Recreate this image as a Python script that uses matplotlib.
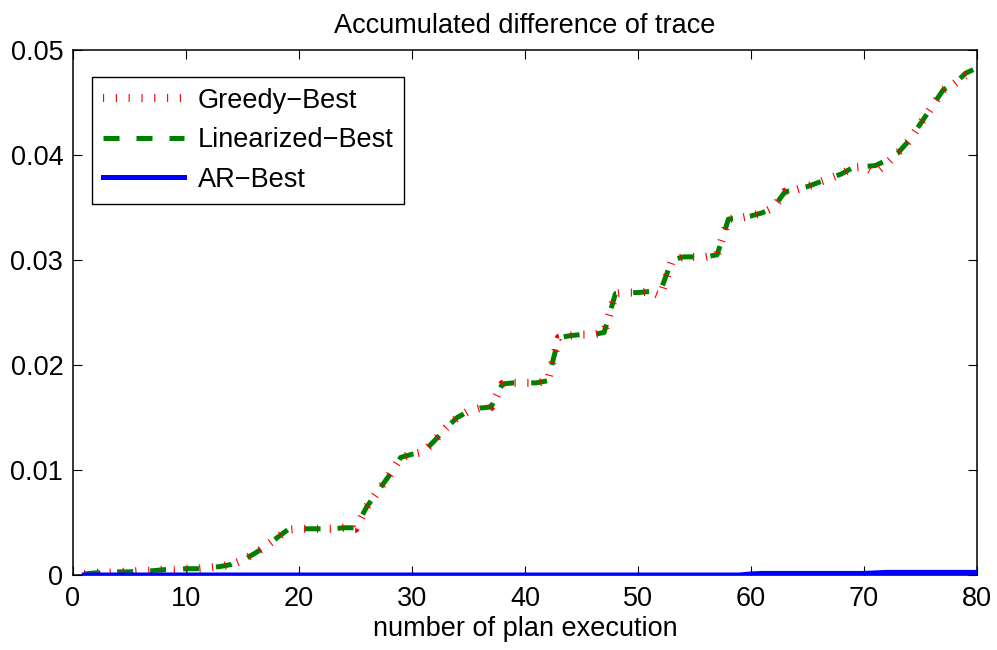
import numpy as np
import matplotlib
matplotlib.use('Agg')
import matplotlib.pyplot as plt
from matplotlib.ticker import FormatStrFormatter

plt.rcParams['font.family'] = ['Liberation Sans', 'DejaVu Sans']

# số lần thực thi kế hoạch
runs = list(range(1, 81))

# Linearized-Best
linearized = [0.0001, 0.0002, 0.0002, 0.0003, 0.0003, 0.0004, 0.0004, 0.0005, 0.0005, 0.0006,
              0.0006, 0.0007, 0.0008, 0.0010, 0.0014, 0.0020, 0.0027, 0.0035, 0.0043, 0.0044,
              0.0044, 0.0044, 0.0044, 0.0045, 0.0045, 0.0065, 0.0080, 0.0095, 0.0112, 0.0115,
              0.0117, 0.0128, 0.0140, 0.0150, 0.0156, 0.0159, 0.0160, 0.0182, 0.0183, 0.0183,
              0.0183, 0.0185, 0.0226, 0.0228, 0.0229, 0.0229, 0.0231, 0.0268, 0.0269, 0.0269,
              0.0270, 0.0271, 0.0300, 0.0303, 0.0303, 0.0303, 0.0305, 0.0339, 0.0340, 0.0342,
              0.0345, 0.0350, 0.0365, 0.0367, 0.0370, 0.0374, 0.0378, 0.0382, 0.0388, 0.0389,
              0.0390, 0.0395, 0.0402, 0.0414, 0.0430, 0.0446, 0.0462, 0.0468, 0.0478, 0.0483]

# Greedy-Best: gần như trùng, chỉ lệch ở vài điểm
greedy = [0.0001, 0.0002, 0.0002, 0.0003, 0.0003, 0.0004, 0.0004, 0.0005, 0.0005, 0.0006,
          0.0006, 0.0007, 0.0008, 0.0010, 0.0014, 0.0020, 0.0027, 0.0035, 0.0043, 0.0044,
          0.0044, 0.0044, 0.0044, 0.0045, 0.0044, 0.0065, 0.0080, 0.0095, 0.0112, 0.0115,
          0.0117, 0.0128, 0.0140, 0.0150, 0.0156, 0.0159, 0.0160, 0.0182, 0.0183, 0.0183,
          0.0183, 0.0185, 0.0226, 0.0228, 0.0229, 0.0229, 0.0231, 0.0268, 0.0269, 0.0269,
          0.0270, 0.0266, 0.0300, 0.0303, 0.0303, 0.0303, 0.0305, 0.0339, 0.0340, 0.0342,
          0.0345, 0.0350, 0.0365, 0.0367, 0.0370, 0.0374, 0.0378, 0.0382, 0.0388, 0.0389,
          0.0383, 0.0392, 0.0402, 0.0414, 0.0430, 0.0446, 0.0462, 0.0468, 0.0476, 0.0475]

# AR-Best: gần bằng 0
ar = [0.0] * 59 + [0.0001] + [0.00015] * 10 + [0.0002] + [0.00025] * 9

fig = plt.figure(figsize=(9.97, 6.5), dpi=100)
ax = fig.add_axes([0.0732, 0.1154, 0.9068, 0.8076])

l2, = ax.plot(runs, linearized, color=(0, 0.5, 0), lw=3.6, linestyle=(0, (3.2, 3.4)),
              dash_capstyle='butt', zorder=2, label='Linearized\u2212Best')
l1, = ax.plot(runs, greedy, color='red', lw=5.8, linestyle=(0, (0.14, 1.45)),
              dash_capstyle='butt', zorder=3, label='Greedy\u2212Best')
l3, = ax.plot(runs, ar, color='blue', lw=3.6, zorder=4, label='AR\u2212Best')

ax.set_xlim(0, 80)
ax.set_ylim(0, 0.05)
ax.set_xticks(range(0, 81, 10))
ax.set_yticks(np.arange(0, 0.051, 0.01))
ax.yaxis.set_major_formatter(FormatStrFormatter('%g'))
ax.tick_params(direction='in', length=6.3, width=0.8, labelsize=19.5,
               top=True, right=True)
ax.tick_params(axis='y', pad=7)
ax.tick_params(axis='x', pad=8)
for s in ax.spines.values():
    s.set_linewidth(1.1)

ax.set_title('Accumulated difference of trace', fontsize=19.5, pad=12)
ax.set_xlabel('number of plan execution', fontsize=19.5, labelpad=3)

leg = ax.legend(handles=[l1, l2, l3], loc='upper left', bbox_to_anchor=(0.021, 0.9486),
                borderaxespad=0, fontsize=19.5, fancybox=False, edgecolor='black',
                framealpha=1, handlelength=3.0, labelspacing=0.5, borderpad=0.4,
                handletextpad=0.5)
leg.get_frame().set_linewidth(1.0)

fig.savefig('out.png', dpi=100)
